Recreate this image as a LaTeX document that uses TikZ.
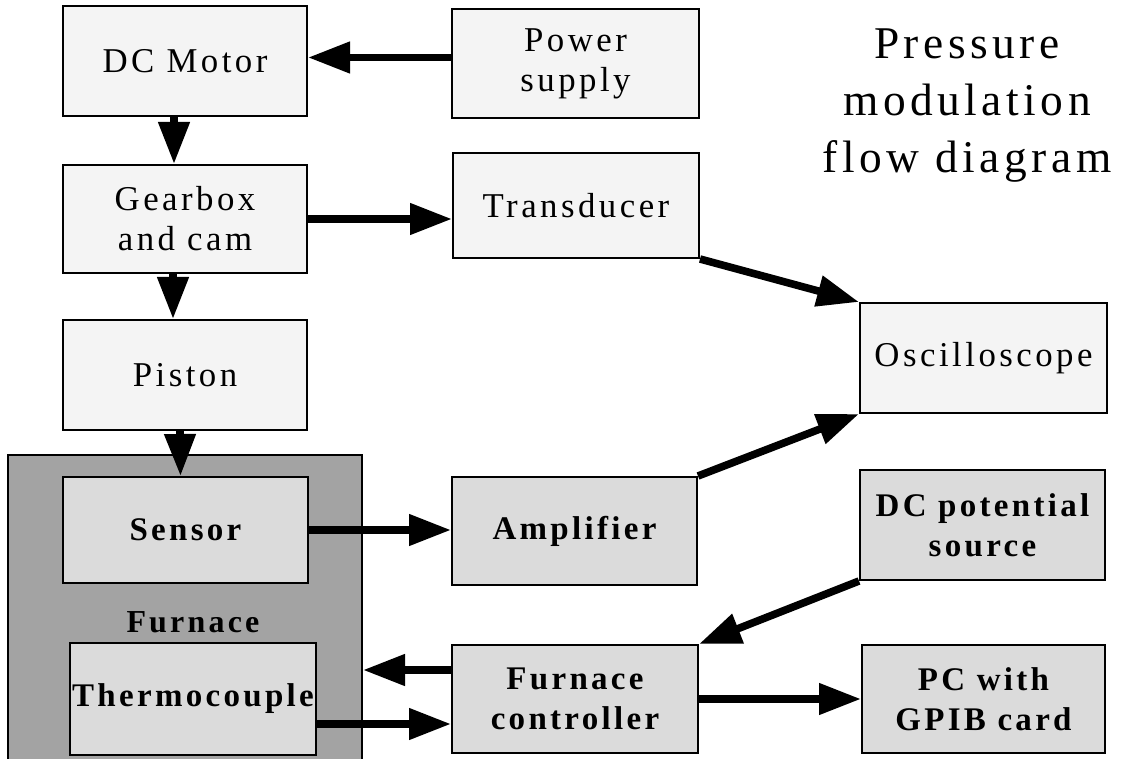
\documentclass[tikz,border=0pt]{standalone}
\usepackage{fontspec}
\setmainfont{Liberation Serif}[LetterSpace=10]
\usetikzlibrary{arrows.meta}

\tikzset{
  unitbox/.style={draw, line width=1pt, fill=gray!9, inner sep=0pt, align=center,
    font=\fontsize{17.4}{20}\selectfont},
  densebox/.style={unitbox, fill=gray!28, font=\fontsize{16.5}{20}\selectfont\bfseries},
  flow/.style={line width=3.8pt, -{Triangle[length=21pt,width=15pt]}},
}

\begin{document}
\begin{tikzpicture}[x=0.5pt,y=-0.5pt]
  \useasboundingbox (0,0) rectangle (1125,759);
  % furnace housing
  \node[draw, line width=1pt, fill=gray!72, minimum width=177pt, minimum height=155pt] (furnace) at (185,610) {};
  \node[font=\fontsize{16}{20}\selectfont\bfseries, inner sep=0pt] (furnlabel) at (193,622) {Furnace};
  % left column
  \node[unitbox, minimum width=122pt, minimum height=55pt] (motor) at (185,61) {DC Motor};
  \node[unitbox, minimum width=122pt, minimum height=54pt] (gear) at (185,219) {Gearbox\\and cam};
  \node[unitbox, minimum width=122pt, minimum height=55pt] (piston) at (185,375) {Piston};
  \node[densebox, minimum width=122.5pt, minimum height=53pt] (sensor) at (185.5,530) {Sensor};
  \node[densebox, minimum width=123pt, minimum height=56pt] (thermo) at (193,699) {Thermocouple};
  % middle column
  \node[unitbox, minimum width=123.5pt, minimum height=54.5pt] (power) at (575.5,63.5) {Power\\supply};
  \node[unitbox, minimum width=123pt, minimum height=52.5pt] (trans) at (576,205.5) {Transducer};
  \node[densebox, minimum width=122.5pt, minimum height=54pt] (amp) at (574.5,531) {Amplifier};
  \node[densebox, minimum width=123pt, minimum height=54pt] (fc) at (575,699) {Furnace\\controller};
  % right column
  \node[unitbox, minimum width=123.5pt, minimum height=55pt] (osc) at (983.5,358) {Oscilloscope};
  \node[densebox, minimum width=122.5pt, minimum height=55pt] (dcpot) at (982.5,525) {DC potential\\source};
  \node[densebox, minimum width=121.5pt, minimum height=54pt] (pc) at (983.5,699) {PC with\\GPIB card};
  \node[align=center, inner sep=0pt, font=\fontsize{22.7}{28.5}\selectfont] (title) at (967,106)
    {Pressure\\modulation\\flow diagram};
  % connectors
  \draw[flow] ([yshift=3pt]power.west) -- ([yshift=3pt]power.west -| motor.east);
  \draw[flow] ([xshift=-5.5pt]motor.south) -- ([xshift=-5.5pt]gear.north);
  \draw[flow] (gear.east) -- (gear.east -| trans.west);
  \draw[flow] ([xshift=-6pt]gear.south) -- ([xshift=-6pt]piston.north);
  \draw[flow] ([xshift=-2.5pt]piston.south) -- ([xshift=-2.5pt]sensor.north);
  \draw[flow] (trans.south east) -- (osc.north west);
  \draw[flow] (amp.north east) -- (osc.south west);
  \draw[flow] (sensor.east) -- (sensor.east -| amp.west);
  \draw[flow] (dcpot.south west) -- (fc.north east);
  \draw[flow] ([yshift=14.5pt]fc.west) -- ([yshift=14.5pt]fc.west -| furnace.east);
  \draw[flow] ([yshift=-12.5pt]thermo.east) -- ([yshift=-12.5pt]thermo.east -| fc.west);
  \draw[flow] (fc.east) -- (pc.west);
\end{tikzpicture}
\end{document}
